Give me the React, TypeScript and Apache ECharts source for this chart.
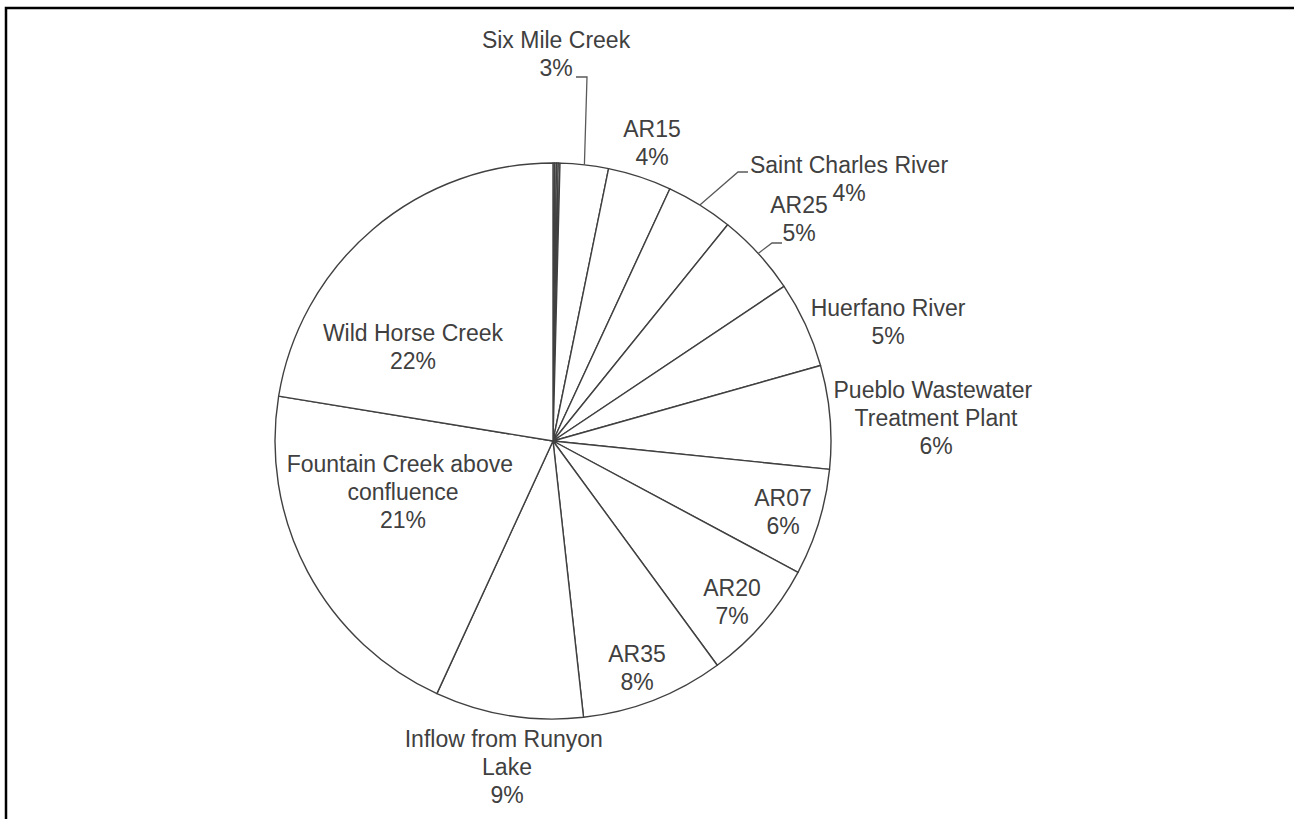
import React, { useEffect, useRef } from "react";
import * as echarts from "echarts";

// ---- data ----
const categories: string[] = [
  "Minor source 1",
  "Minor source 2",
  "Minor source 3",
  "Minor source 4",
  "Six Mile Creek",
  "AR15",
  "Saint Charles River",
  "AR25",
  "Huerfano River",
  "Pueblo Wastewater Treatment Plant",
  "AR07",
  "AR20",
  "AR35",
  "Inflow from Runyon Lake",
  "Fountain Creek above confluence",
  "Wild Horse Creek",
];
const values: number[] = [0.1, 0.1, 0.1, 0.1, 2.8, 3.7, 3.9, 4.8, 5.0, 6.0, 6.2, 7.1, 8.3, 8.6, 20.7, 22.4];
const labelled: boolean[] = [false, false, false, false, true, true, true, true, true, true, true, true, true, true, true, true];

// ---- layout (positions / styles only) ----
const CX = 553;
const CY = 441;
const R = 278;
// label block centres
const LABEL_ANCHORS: ([number, number] | null)[] = [
  null, null, null, null,
  [556, 54],
  [652, 143],
  [849, 179],
  [799, 219],
  [888, 322],
  [936, 418],
  [783, 512],
  [732, 602],
  [637, 668],
  [507, 767],
  [403, 492],
  [413, 347],
];
// text wrap widths
const LABEL_WIDTHS: (number | null)[] = [null, null, null, null, null, null, 260, null, null, 215, null, null, null, 215, 245, null];
// leader lines: [endOffsetX, endOffsetY, horizontal segment]
const LEADERS: ([number, number, number] | null)[] = [
  null, null, null, null,
  [20, 23, 11],
  null,
  [-101, -7, -10],
  [-17, 24, -10],
  null, null, null, null, null, null, null, null,
];

const FONT = "'Liberation Sans', Arial, sans-serif";
const TEXT_COLOR = "#404040";
const LINE_COLOR = "#404040";

export default function App() {
  const ref = useRef<HTMLDivElement>(null);

  useEffect(() => {
    if (!ref.current) return;
    const chart = echarts.init(ref.current, undefined, { renderer: "svg" });
    const total = values.reduce((a, b) => a + b, 0);

    // mid angles (clockwise from top, degrees)
    const mids: number[] = [];
    let acc = 0;
    values.forEach((v) => {
      const span = (v / total) * 360;
      mids.push(acc + span / 2);
      acc += span;
    });

    const leaderGraphics: any[] = [];
    LEADERS.forEach((l, i) => {
      const a = LABEL_ANCHORS[i];
      if (!l || !a) return;
      const rad = (mids[i] * Math.PI) / 180;
      const sx = CX + R * Math.sin(rad);
      const sy = CY - R * Math.cos(rad);
      const ex = a[0] + l[0];
      const ey = a[1] + l[1];
      const bx = ex + l[2];
      leaderGraphics.push({
        type: "polyline",
        shape: { points: [[sx, sy], [bx, ey], [ex, ey]] },
        style: { stroke: "#595959", lineWidth: 1.3, fill: "none" },
        silent: true,
        z: 10,
      });
    });

    const data = categories.map((name, i) => ({
      name,
      value: values[i],
      label: {
        show: labelled[i],
        width: LABEL_WIDTHS[i] ?? undefined,
        overflow: LABEL_WIDTHS[i] ? "break" : "none",
      },
      labelLine: { show: false },
    }));

    chart.setOption({
      animation: false,
      backgroundColor: "#ffffff",
      graphic: [
        {
          type: "rect",
          shape: { x: 6, y: 8, width: 1400, height: 900 },
          style: { fill: "none", stroke: "#000", lineWidth: 2.5 },
          silent: true,
        },
        ...leaderGraphics,
      ],
      series: [
        {
          type: "pie",
          center: [CX, CY],
          radius: [0, R],
          startAngle: 90,
          clockwise: true,
          avoidLabelOverlap: false,
          minAngle: 0,
          emphasis: { disabled: true },
          itemStyle: { color: "#ffffff", borderColor: LINE_COLOR, borderWidth: 1.4 },
          label: {
            position: "inside",
            color: TEXT_COLOR,
            fontFamily: FONT,
            fontSize: 23,
            lineHeight: 28,
            align: "center",
            textBorderWidth: 0,
            formatter: (p: any) => `${p.name}\n${Math.round((p.value / total) * 100)}%`,
          },
          labelLayout: (params: any) => {
            const a = LABEL_ANCHORS[params.dataIndex];
            if (!a) return {};
            return { x: a[0], y: a[1], align: "center", verticalAlign: "middle" };
          },
          data,
        },
      ],
    });
    return () => chart.dispose();
  }, []);

  return (
    <div
      ref={ref}
      style={{ position: "fixed", left: 0, top: 0, width: 1294, height: 819, background: "#fff" }}
    />
  );
}
